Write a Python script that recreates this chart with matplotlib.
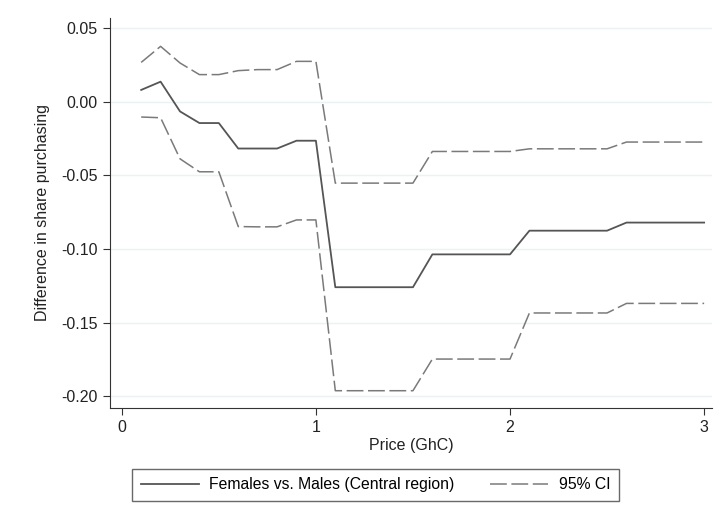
import matplotlib.pyplot as plt
from matplotlib.lines import Line2D

plt.rcParams['font.family'] = ['Liberation Sans', 'DejaVu Sans']

# price grid (GhC)
price = [0.1, 0.2, 0.3, 0.4, 0.5, 0.6, 0.7, 0.8, 0.9, 1.0,
         1.1, 1.2, 1.3, 1.4, 1.5, 1.6, 1.7, 1.8, 1.9, 2.0,
         2.1, 2.2, 2.3, 2.4, 2.5, 2.6, 2.7, 2.8, 2.9, 3.0]

# difference females vs males (central region)
diff = [0.008, 0.0136, -0.0066, -0.0145, -0.0145, -0.0318, -0.0318, -0.0318, -0.0265, -0.0265,
        -0.126, -0.126, -0.126, -0.126, -0.126, -0.1037, -0.1037, -0.1037, -0.1037, -0.1037,
        -0.0876, -0.0876, -0.0876, -0.0876, -0.0876, -0.0821, -0.0821, -0.0821, -0.0821, -0.0821]

ci_upper = [0.0267, 0.0376, 0.0263, 0.0184, 0.0184, 0.0211, 0.0218, 0.0218, 0.0274, 0.0274,
            -0.0553, -0.0553, -0.0553, -0.0553, -0.0553, -0.0338, -0.0338, -0.0338, -0.0338, -0.0338,
            -0.032, -0.032, -0.032, -0.032, -0.032, -0.0274, -0.0274, -0.0274, -0.0274, -0.0274]

ci_lower = [-0.0104, -0.0109, -0.0388, -0.0476, -0.0476, -0.0848, -0.085, -0.085, -0.0803, -0.0803,
            -0.1963, -0.1963, -0.1963, -0.1963, -0.1963, -0.1748, -0.1748, -0.1748, -0.1748, -0.1748,
            -0.1435, -0.1435, -0.1435, -0.1435, -0.1435, -0.137, -0.137, -0.137, -0.137, -0.137]

yticks = [0.05, 0.0, -0.05, -0.10, -0.15, -0.20]
ytick_labels = ['0.05', '0.00', '-0.05', '-0.10', '-0.15', '-0.20']
xticks = [0, 1, 2, 3]

fig = plt.figure(figsize=(7.22, 5.23), dpi=100)
ax = fig.add_axes([0.152, 0.22, 0.834, 0.746])

line_col = '#555555'
ci_col = '#7a7a7a'
dash = (11, 3)

ax.plot(price, diff, color=line_col, lw=1.3)
ax.plot(price, ci_upper, color=ci_col, lw=1.1, dashes=dash)
ax.plot(price, ci_lower, color=ci_col, lw=1.1, dashes=dash)

ax.set_xlim(-0.062, 3.04)
ax.set_ylim(-0.208, 0.057)
ax.set_xticks(xticks)
ax.set_yticks(yticks)
ax.set_yticklabels(ytick_labels)
for y in yticks:
    ax.axhline(y, color='#eaf2f3', lw=1, zorder=0)

ax.spines['top'].set_visible(False)
ax.spines['right'].set_visible(False)
ax.spines['left'].set_color('#333333')
ax.spines['bottom'].set_color('#333333')
ax.tick_params(direction='out', length=5, color='#333333', labelsize=11.5, labelcolor='#222222')

ax.set_xlabel('Price (GhC)', fontsize=11.5, color='#222222', labelpad=2)
ax.set_ylabel('Difference in share purchasing', fontsize=11.5, color='#222222', labelpad=8)

handles = [Line2D([0], [0], color=line_col, lw=1.3),
           Line2D([0], [0], color=ci_col, lw=1.1, dashes=dash)]
leg = fig.legend(handles, ['Females vs. Males (Central region)', '95% CI'],
                 loc='center', bbox_to_anchor=(0.52, 0.073), ncol=2, frameon=True,
                 fancybox=False, edgecolor='#444444', fontsize=11.3, handlelength=3.7,
                 handletextpad=0.65, columnspacing=2.3, borderpad=0.55)
leg.get_frame().set_linewidth(1.0)

fig.savefig('out.png', dpi=100)
